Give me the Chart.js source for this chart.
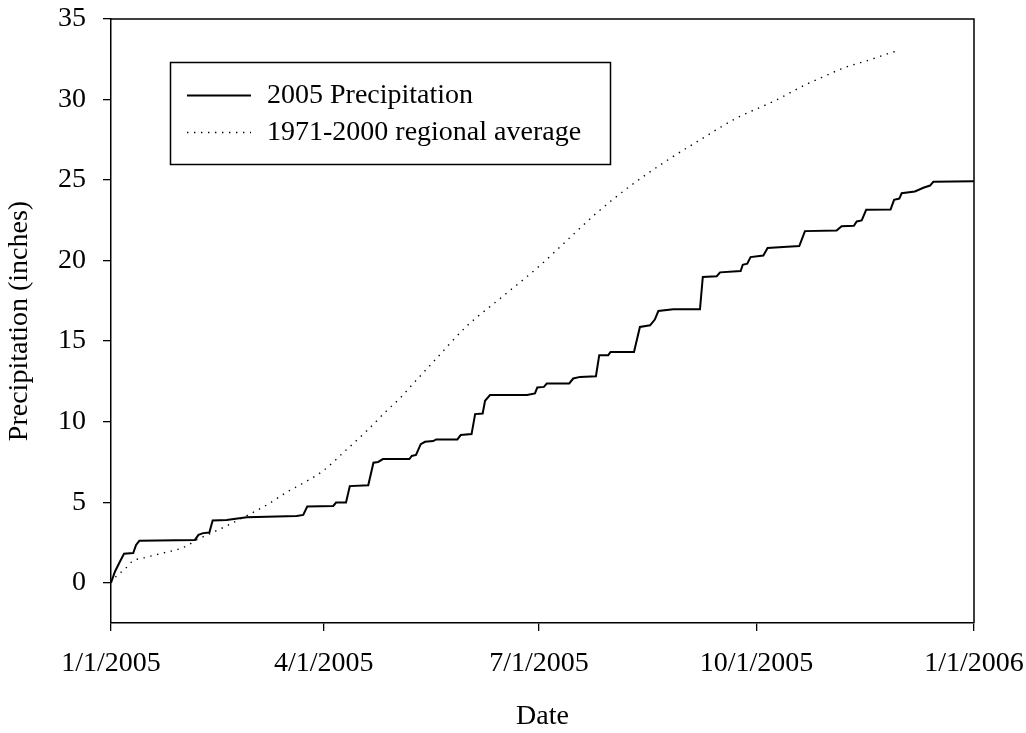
<!DOCTYPE html>
<html>
<head>
<meta charset="utf-8">
<script src="https://cdn.jsdelivr.net/npm/chart.js@4.4.1/dist/chart.umd.min.js"></script>
<style>
  html, body { margin: 0; padding: 0; background: #fff; }
  #wrap { width: 1026px; height: 733px; }
</style>
</head>
<body>
<div id="wrap"><canvas id="chart"></canvas></div>
<script>
// x values are days since 1/1/2005
const precipDays = [0, 1.7, 3.8, 5.5, 9.4, 10.6, 12, 35.5, 37, 39, 41.6, 43, 48.9, 57.4, 78.5, 81.3,
  83, 94, 95.2, 99.4, 101, 108.8, 111, 113, 115, 126.2, 127.2, 129, 131, 132.8, 136.3, 137.5,
  146.5, 147.9, 152.5, 154, 157.2, 158.2, 160.3, 176, 179.3, 180.3, 183.1, 184.3, 193.8, 195.5,
  198.4, 205.1, 206.5, 210.3, 211.3, 221.2, 223.7, 228, 230, 231.5, 237.8, 249.1, 250.3, 256.2,
  257.6, 266.3, 267.2, 269.1, 270.5, 275.9, 277.7, 284.3, 291.1, 293.5, 306.9, 309, 314.2, 315.4,
  317.5, 319.4, 329.7, 331.2, 333.4, 334.4, 340, 343.6, 346.4, 347.8, 365];
const precipValues = [0, 0.70, 1.32, 1.80, 1.84, 2.35, 2.60, 2.66, 2.97, 3.08, 3.12, 3.86, 3.90, 4.07, 4.15, 4.21,
  4.73, 4.77, 4.98, 4.98, 6.00, 6.05, 7.45, 7.50, 7.68, 7.68, 7.87, 7.93, 8.60, 8.75, 8.80, 8.90,
  8.90, 9.17, 9.23, 10.47, 10.51, 11.30, 11.65, 11.65, 11.75, 12.12, 12.16, 12.37, 12.37, 12.68,
  12.78, 12.82, 14.13, 14.13, 14.33, 14.33, 15.88, 15.98, 16.34, 16.87, 16.98, 16.98, 18.98, 19.03,
  19.27, 19.35, 19.74, 19.81, 20.22, 20.32, 20.78, 20.84, 20.90, 21.83, 21.87, 22.14, 22.16, 22.43,
  22.49, 23.15, 23.17, 23.77, 23.85, 24.18, 24.29, 24.52, 24.66, 24.89, 24.93];

const avgDays = [0, 2.4, 5.9, 8.8, 15.1, 23.6, 29.9, 32.7, 36.2, 41.9, 47.8, 56.7, 65.9, 74.3, 80.6,
  89.8, 99, 108.1, 116.6, 122.5, 128.1, 136.3, 150.4, 165.7, 180.7, 195.5, 204.7, 219.5, 235,
  249.1, 264.6, 280.1, 294.9, 300.6, 309.7, 321.7, 328.1, 333.7];
const avgValues = [0, 0.43, 0.85, 1.30, 1.59, 1.90, 2.15, 2.35, 2.66, 3.05, 3.45, 4.11, 4.83, 5.62, 6.13,
  6.96, 8.18, 9.42, 10.68, 11.50, 12.41, 13.71, 15.92, 17.78, 19.60, 21.62, 22.87, 24.62, 26.20,
  27.49, 28.85, 29.88, 31.00, 31.37, 31.95, 32.50, 32.82, 33.08];

const seriesLabels = ['2005 Precipitation', '1971-2000 regional average'];
const xTickDays = [0, 90, 181, 273, 365];
const xTickLabels = ['1/1/2005', '4/1/2005', '7/1/2005', '10/1/2005', '1/1/2006'];
const yTickValues = [0, 5, 10, 15, 20, 25, 30, 35];

const FONT = '"Liberation Serif", "Times New Roman", serif';

const toPoints = (xs, ys) => xs.map((x, i) => ({ x: x, y: ys[i] }));

// top and right edges of the plot frame
const frame = {
  id: 'frame',
  afterDraw(chart) {
    const { ctx, chartArea: a } = chart;
    ctx.save();
    ctx.strokeStyle = '#000';
    ctx.lineWidth = 1.5;
    ctx.beginPath();
    ctx.moveTo(a.left, a.top);
    ctx.lineTo(a.right, a.top);
    ctx.lineTo(a.right, a.bottom);
    ctx.stroke();
    ctx.restore();
  }
};

// boxed legend inside the plot
const boxLegend = {
  id: 'boxLegend',
  afterDraw(chart) {
    const ctx = chart.ctx;
    ctx.save();
    ctx.strokeStyle = '#000';
    ctx.lineWidth = 1.5;
    ctx.strokeRect(170.5, 62.5, 440, 102);
    chart.data.datasets.forEach((ds, i) => {
      const y = 95.5 + i * 37;
      ctx.beginPath();
      ctx.setLineDash(ds.borderDash || []);
      ctx.lineWidth = ds.borderWidth;
      ctx.moveTo(187, y);
      ctx.lineTo(251, y);
      ctx.stroke();
      ctx.setLineDash([]);
      ctx.fillStyle = '#000';
      ctx.font = '28px ' + FONT;
      ctx.textBaseline = 'middle';
      ctx.textAlign = 'left';
      ctx.fillText(ds.label, 267, y);
    });
    ctx.restore();
  }
};

new Chart(document.getElementById('chart'), {
  type: 'line',
  data: {
    datasets: [
      {
        label: seriesLabels[0],
        data: toPoints(precipDays, precipValues),
        borderColor: '#000',
        borderWidth: 2,
        pointRadius: 0,
        tension: 0
      },
      {
        label: seriesLabels[1],
        data: toPoints(avgDays, avgValues),
        borderColor: '#000',
        borderWidth: 1.4,
        borderDash: [1.4, 5.6],
        pointRadius: 0,
        cubicInterpolationMode: 'monotone'
      }
    ]
  },
  options: {
    responsive: true,
    maintainAspectRatio: false,
    animation: false,
    layout: { padding: { left: 0, right: 52, top: 19, bottom: 0 } },
    plugins: {
      legend: { display: false },
      tooltip: { enabled: false }
    },
    scales: {
      x: {
        type: 'linear',
        min: 0,
        max: 365,
        afterBuildTicks: s => { s.ticks = xTickDays.map(v => ({ value: v })); },
        afterFit: s => { s.height = 110; s.paddingLeft = 0; s.paddingRight = 0; },
        grid: { drawOnChartArea: false, drawTicks: true, tickLength: 8, color: '#000', lineWidth: 1.3 },
        border: { display: true, color: '#000', width: 1.5 },
        ticks: {
          padding: 16,
          color: '#000',
          font: { family: FONT, size: 28 },
          maxRotation: 0,
          callback: v => xTickLabels[xTickDays.indexOf(v)]
        },
        title: {
          display: true,
          text: 'Date',
          color: '#000',
          font: { family: FONT, size: 28 },
          padding: { top: 0, bottom: 0 }
        }
      },
      y: {
        min: -2.5,
        max: 35,
        afterBuildTicks: s => { s.ticks = yTickValues.map(v => ({ value: v })); },
        afterFit: s => { s.width = 111; s.paddingTop = 0; s.paddingBottom = 0; },
        grid: { drawOnChartArea: false, drawTicks: true, tickLength: 8, color: '#000', lineWidth: 1.3 },
        border: { display: true, color: '#000', width: 1.5 },
        ticks: {
          padding: 17,
          color: '#000',
          font: { family: FONT, size: 28 }
        },
        title: {
          display: true,
          text: 'Precipitation (inches)',
          color: '#000',
          font: { family: FONT, size: 28 },
          padding: { top: 3, bottom: 0 }
        }
      }
    }
  },
  plugins: [frame, boxLegend]
});
</script>
</body>
</html>
